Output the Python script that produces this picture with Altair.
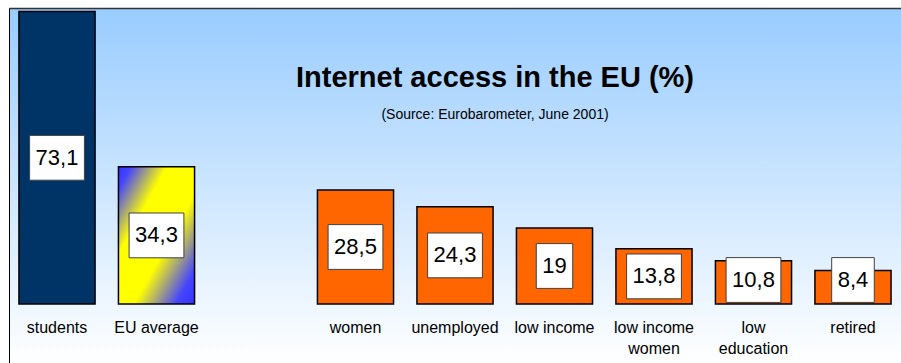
import altair as alt
import pandas as pd

# ---- data ----
categories = ["students", "EU average", "women", "unemployed", "low income",
              "low income\nwomen", "low\neducation", "retired"]
values = [73.1, 34.3, 28.5, 24.3, 19.0, 13.8, 10.8, 8.4]
gap = " "  # empty slot between "EU average" and "women"
slots = categories[:2] + [gap] + categories[2:]

df = pd.DataFrame({"category": categories, "value": values})

FONT = "Liberation Sans, Arial, sans-serif"
YMAX = 74

bg_gradient = {
    "gradient": "linear", "x1": 0, "y1": 0, "x2": 0, "y2": 1,
    "stops": [{"offset": 0, "color": "#99ccff"}, {"offset": 1, "color": "#ffffff"}],
}
eu_gradient = {
    "gradient": "linear", "x1": 0, "y1": 0, "x2": 1, "y2": 1,
    "stops": [
        {"offset": 0, "color": "#3333ff"},
        {"offset": 0.08, "color": "#4444ff"},
        {"offset": 0.32, "color": "#ffff00"},
        {"offset": 0.6, "color": "#ffff00"},
        {"offset": 0.88, "color": "#4444ff"},
        {"offset": 1, "color": "#3333ff"},
    ],
}

xscale = alt.Scale(domain=slots, paddingInner=0.235, paddingOuter=0.1)
yscale = alt.Scale(domain=[-14.75, YMAX], nice=False, zero=False)

x_main = alt.X(
    "category:N", scale=xscale, sort=None, title=None,
    axis=alt.Axis(orient="bottom", offset=-59, domain=False, ticks=False, tickSize=0,
                  labelPadding=15, labelAngle=0, labelFont=FONT, labelFontSize=16,
                  labelColor="black", labelLineHeight=21, labelBaseline="top",
                  labelExpr="split(datum.label, '\\n')", grid=False, zindex=1),
)
y_main = alt.Y(
    "value:Q", scale=yscale, title=None,
    axis=alt.Axis(domain=True, domainColor="black", domainWidth=1, labels=False,
                  ticks=False, grid=True, values=[YMAX], gridColor="#333333",
                  gridWidth=1.5, gridOpacity=1, zindex=1),
)
x_plain = alt.X("category:N", scale=xscale, sort=None)

base = alt.Chart(df)

background = base.mark_rect(fill=bg_gradient).encode(
    x=alt.value(0), x2=alt.value("width"), y=alt.value(0), y2=alt.value("height")
)

students = base.mark_bar(fill="#003366", stroke="black", strokeWidth=1.5).transform_filter(
    "datum.category == 'students'"
).encode(x=x_main, y=y_main, y2=alt.datum(0))

eu = base.mark_bar(fill=eu_gradient, stroke="black", strokeWidth=1.5).transform_filter(
    "datum.category == 'EU average'"
).encode(x=x_plain, y=alt.Y("value:Q", scale=yscale), y2=alt.datum(0))

others = base.mark_bar(fill="#ff6600", stroke="black", strokeWidth=1.5).transform_filter(
    "datum.category != 'students' && datum.category != 'EU average'"
).encode(x=x_plain, y=alt.Y("value:Q", scale=yscale), y2=alt.datum(0))

labelled = base.transform_calculate(
    label="replace(format(datum.value, ''), '.', ',')"
).transform_calculate(
    ly="max(datum.value / 2, 6.0)",
    boxw="length(datum.label) * 12.23 - (indexof(datum.label, ',') >= 0 ? 6.1 : 0) + 12",
).transform_calculate(
    ylo="datum.ly - 5.6", yhi="datum.ly + 5.6"
)

boxes = labelled.mark_bar(fill="white", stroke="#404040", strokeWidth=1).encode(
    x=x_plain,
    y=alt.Y("ylo:Q", scale=yscale),
    y2="yhi:Q",
    size=alt.Size("boxw:Q", scale=None, legend=None),
)

texts = labelled.mark_text(font=FONT, fontSize=22, baseline="middle", align="center",
                           color="black").encode(
    x=x_plain,
    y=alt.Y("ly:Q", scale=yscale),
    text="label:N",
)

chart = alt.layer(background, students, eu, others, boxes, texts).properties(
    width=892, height=355, autosize="none",
    padding={"left": 9, "top": 8, "right": 0, "bottom": 0},
    title=alt.TitleParams(
        text="Internet access in the EU (%)",
        subtitle="(Source: Eurobarometer, June 2001)",
        font=FONT, fontSize=29, fontWeight="bold", color="black",
        subtitleFont=FONT, subtitleFontSize=14, subtitleColor="black",
        subtitlePadding=15,
        anchor="middle", orient="top", offset=-135, dx=40, dy=-21,
    ),
).configure_view(stroke=None).configure(background="white")

chart.save("out.html", embed_options={"renderer": "svg", "actions": False})
